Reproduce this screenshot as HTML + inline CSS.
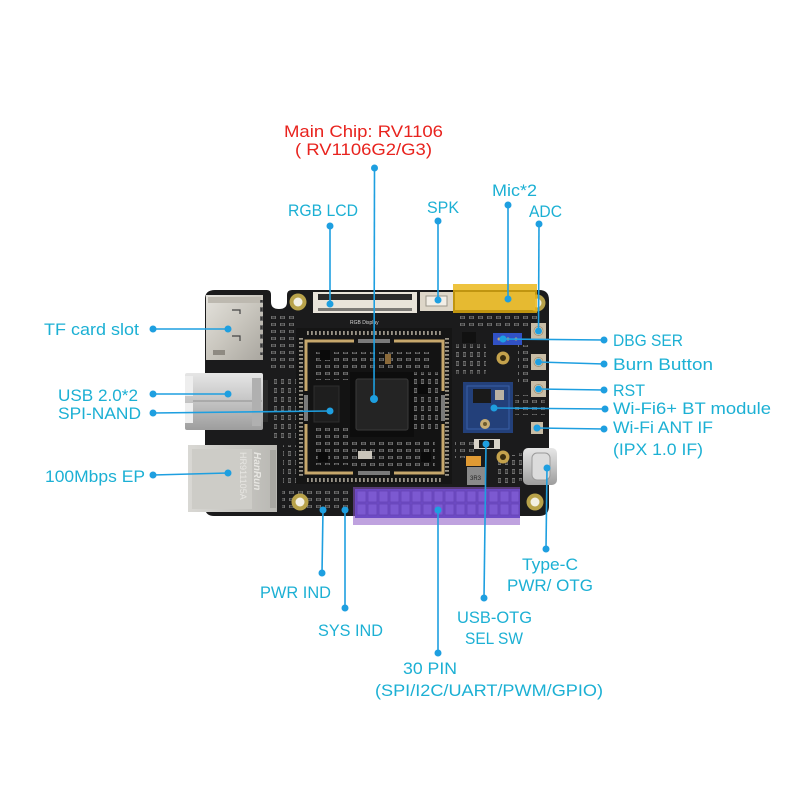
<!DOCTYPE html>
<html>
<head>
<meta charset="utf-8">
<style>
html,body{margin:0;padding:0;background:#fff;}
svg{display:block;}
.lbl{font-family:"Liberation Sans",sans-serif;font-size:17px;fill:#1cb0d4;}
.red{font-family:"Liberation Sans",sans-serif;font-size:17px;fill:#e8231e;}
.ln{stroke:#1e9fe0;stroke-width:1.6;fill:none;}
.dt{fill:#1e9fe0;}
.silk{font-family:"Liberation Sans",sans-serif;font-size:5px;fill:#d8d8d8;}
</style>
</head>
<body>
<svg width="800" height="800" viewBox="0 0 800 800" xmlns="http://www.w3.org/2000/svg">
<defs>
<linearGradient id="metal" x1="0" y1="0" x2="1" y2="1">
<stop offset="0" stop-color="#e4e2dc"/><stop offset="0.5" stop-color="#c9c6be"/><stop offset="1" stop-color="#a9a69f"/>
</linearGradient>
<linearGradient id="usb" x1="0" y1="0" x2="0" y2="1">
<stop offset="0" stop-color="#e6e6e6"/><stop offset="0.5" stop-color="#c4c4c4"/><stop offset="1" stop-color="#9d9d9d"/>
</linearGradient>
<linearGradient id="eth" x1="0" y1="0" x2="1" y2="0">
<stop offset="0" stop-color="#d9d8d4"/><stop offset="1" stop-color="#b9b8b3"/>
</linearGradient>
<pattern id="smd" x="0" y="0" width="9" height="7" patternUnits="userSpaceOnUse">
<rect x="1" y="1" width="5" height="3" fill="#6d6d6d"/>
<rect x="2" y="1.5" width="3" height="2" fill="#3a3a3a"/>
</pattern>
<pattern id="smd2" x="0" y="0" width="7" height="9" patternUnits="userSpaceOnUse">
<rect x="1" y="1" width="3" height="5" fill="#707070"/>
<rect x="1.5" y="2" width="2" height="3" fill="#383838"/>
</pattern>
</defs>

<!-- board -->
<path d="M215 290 H267 Q271 290 271 295 V302 Q271 309 279 309 Q287 309 287 302 V295 Q287 290 292 290 H539 Q549 290 549 300 V506 Q549 516 539 516 H214 Q205 516 205 507 V299 Q205 290 215 290 Z" fill="#1b1b1c"/>

<!-- scattered smd areas -->
<rect x="268" y="312" width="30" height="60" fill="url(#smd)"/>
<rect x="270" y="378" width="28" height="60" fill="url(#smd2)"/>
<rect x="283" y="445" width="14" height="40" fill="url(#smd2)"/>
<rect x="458" y="315" width="80" height="14" fill="url(#smd)"/>
<rect x="456" y="344" width="30" height="30" fill="url(#smd2)"/>
<rect x="518" y="345" width="14" height="40" fill="url(#smd)"/>
<rect x="455" y="438" width="20" height="20" fill="url(#smd)"/>
<rect x="495" y="455" width="22" height="30" fill="url(#smd2)"/>
<rect x="282" y="488" width="70" height="24" fill="url(#smd)"/>
<rect x="515" y="395" width="30" height="20" fill="url(#smd)"/>

<!-- TF card slot -->
<rect x="206" y="295" width="57" height="65" fill="url(#metal)"/>
<rect x="208" y="297" width="53" height="6" fill="#bdb9b0"/>
<path d="M232 310 h8 v4 M232 336 h8 v5" stroke="#444" stroke-width="1.2" fill="none"/>
<rect x="213" y="350" width="12" height="5" fill="#8e8a82"/>
<rect x="260" y="300" width="5" height="55" fill="url(#smd2)"/>

<!-- USB -->
<rect x="185" y="373" width="78" height="57" rx="2" fill="url(#usb)"/>
<rect x="185" y="376" width="8" height="20" fill="#eeeeee"/>
<rect x="185" y="403" width="8" height="20" fill="#eeeeee"/>
<line x1="193" y1="401" x2="262" y2="401" stroke="#8f8f8f" stroke-width="1"/>
<rect x="252" y="378" width="9" height="48" fill="#b0b0b0"/>
<rect x="263" y="380" width="5" height="42" fill="#2a2a2a"/>

<!-- Ethernet -->
<rect x="188" y="445" width="89" height="67" fill="url(#eth)"/>
<rect x="192" y="449" width="60" height="60" fill="#cdccc7"/>
<rect x="270" y="450" width="6" height="58" fill="#a8a7a2"/>
<text transform="translate(254,452) rotate(90)" font-family="Liberation Sans" font-size="10" font-style="italic" font-weight="bold" fill="#e7e6e2">HanRun</text>
<text transform="translate(240,452) rotate(90)" font-family="Liberation Sans" font-size="9" fill="#e7e6e2">HR911105A</text>

<!-- mounting holes -->
<g>
<circle cx="298" cy="302" r="8.5" fill="#b8a24a"/><circle cx="298" cy="302" r="4.5" fill="#f2efe4"/>
<circle cx="300" cy="502" r="8.5" fill="#b8a24a"/><circle cx="300" cy="502" r="4.5" fill="#f2efe4"/>
<circle cx="535" cy="502" r="8.5" fill="#b8a24a"/><circle cx="535" cy="502" r="4.5" fill="#f2efe4"/>
<circle cx="537" cy="303" r="8.5" fill="#b8a24a"/><circle cx="537" cy="303" r="4.5" fill="#f2efe4"/>
</g>

<!-- RGB LCD connector -->
<rect x="313" y="292" width="104" height="21" fill="#e9e4da"/>
<rect x="318" y="294" width="94" height="6" fill="#2a2a2a"/>
<rect x="318" y="308" width="94" height="3" fill="#7c7a76"/>
<text x="350" y="324" class="silk">RGB Display</text>

<!-- SPK connector -->
<rect x="420" y="292" width="33" height="19" fill="#ddd6c8"/>
<rect x="426" y="296" width="21" height="10" fill="#f2eee6" stroke="#9b958a" stroke-width="1"/>

<!-- core module -->
<rect x="296" y="328" width="156" height="156" fill="#151515"/>
<line x1="301" y1="338" x2="301" y2="476" stroke="#9a9488" stroke-width="4" stroke-dasharray="1.8 2.2"/>
<line x1="447" y1="338" x2="447" y2="476" stroke="#9a9488" stroke-width="4" stroke-dasharray="1.8 2.2"/>
<line x1="307" y1="333" x2="443" y2="333" stroke="#9a9488" stroke-width="4" stroke-dasharray="1.8 2.2"/>
<line x1="307" y1="480" x2="443" y2="480" stroke="#9a9488" stroke-width="4" stroke-dasharray="1.8 2.2"/>
<rect x="310" y="345" width="130" height="125" fill="#131313"/>
<g stroke="#c7a86c" stroke-width="3" fill="none">
<path d="M354 341 H306 V391"/>
<path d="M394 341 H443 V391"/>
<path d="M306 424 V473 H353"/>
<path d="M443 424 V473 H394"/>
</g>
<rect x="358" y="339" width="32" height="4" fill="#7a7a7a"/>
<rect x="358" y="471" width="32" height="4" fill="#7a7a7a"/>
<rect x="304" y="395" width="4" height="26" fill="#7a7a7a"/>
<rect x="441" y="395" width="4" height="26" fill="#7a7a7a"/>
<!-- inner components -->
<rect x="315" y="352" width="35" height="28" fill="url(#smd)"/>
<rect x="350" y="352" width="80" height="18" fill="url(#smd)"/>
<rect x="412" y="372" width="26" height="60" fill="url(#smd2)"/>
<rect x="315" y="425" width="35" height="40" fill="url(#smd)"/>
<rect x="350" y="440" width="85" height="28" fill="url(#smd)"/>
<rect x="350" y="372" width="64" height="65" fill="#0d0d0d"/>
<rect x="356" y="379" width="52" height="51" rx="2" fill="#242424" stroke="#3a3a3a" stroke-width="1"/>
<rect x="314" y="386" width="25" height="36" fill="#1e1e1e" stroke="#2e2e2e" stroke-width="1"/>
<rect x="320" y="350" width="10" height="10" fill="#0a0a0a"/>
<rect x="385" y="354" width="6" height="10" fill="#8b6a3a"/>
<rect x="358" y="451" width="14" height="8" fill="#c9c4ba"/>
<rect x="418" y="384" width="10" height="10" fill="#0a0a0a"/>
<rect x="318" y="452" width="10" height="10" fill="#0a0a0a"/>
<rect x="421" y="452" width="10" height="10" fill="#0a0a0a"/>

<!-- right area -->
<rect x="462" y="332" width="14" height="11" fill="#111"/>
<rect x="493" y="333" width="29" height="12" fill="#3151c4"/>
<circle cx="499" cy="339" r="1.5" fill="#c7a86c"/><circle cx="508" cy="339" r="1.5" fill="#c7a86c"/><circle cx="516" cy="339" r="1.5" fill="#c7a86c"/>
<circle cx="503" cy="358" r="6.5" fill="#c4a24c"/><circle cx="503" cy="358" r="3" fill="#3a2e10"/>
<circle cx="503" cy="457" r="6.5" fill="#c4a24c"/><circle cx="503" cy="457" r="3" fill="#3a2e10"/>
<!-- buttons -->
<g>
<rect x="531" y="323" width="15" height="16" fill="#c8bda6"/><circle cx="538.5" cy="331" r="4.5" fill="#e8ddc3" stroke="#a39377"/>
<rect x="531" y="354" width="15" height="16" fill="#c8bda6"/><circle cx="538.5" cy="362" r="4.5" fill="#e8ddc3" stroke="#a39377"/>
<rect x="531" y="381" width="15" height="16" fill="#c8bda6"/><circle cx="538.5" cy="389" r="4.5" fill="#e8ddc3" stroke="#a39377"/>
<rect x="531" y="422" width="12" height="12" fill="#c8bda6"/><circle cx="537" cy="428" r="3" fill="#e8ddc3" stroke="#a39377"/>
</g>
<!-- wifi module -->
<rect x="463" y="382" width="50" height="51" fill="#23407a"/>
<rect x="467" y="386" width="42" height="43" fill="none" stroke="#3a5fa8" stroke-width="1"/>
<rect x="473" y="389" width="18" height="14" fill="#1a1a1a"/>
<rect x="495" y="390" width="9" height="10" fill="#b9b2a3"/>
<circle cx="485" cy="424" r="5" fill="#c8ad73"/><circle cx="485" cy="424" r="2" fill="#6d5a2d"/>
<!-- switch -->
<rect x="474" y="439" width="26" height="10" fill="#d8d3c8"/>
<rect x="479" y="440" width="15" height="8" fill="#1a1a1a"/>
<!-- orange cap and inductor -->
<rect x="466" y="456" width="15" height="10" fill="#e09a34"/>
<rect x="467" y="467" width="18" height="18" fill="#8a8a8a"/>
<text x="470" y="480" font-family="Liberation Sans" font-size="6" fill="#222">3R3</text>
<!-- Type-C -->
<rect x="516" y="453" width="8" height="28" fill="url(#smd2)"/>
<rect x="523" y="448" width="34" height="37" rx="5" fill="url(#usb)"/>
<rect x="532" y="453" width="18" height="27" rx="5" fill="#dcdcdc" stroke="#9a9a9a"/>

<!-- yellow highlight -->
<rect x="455" y="292" width="40" height="18" fill="#d8cfbd"/>
<rect x="495" y="292" width="40" height="18" fill="#d8cfbd"/>
<rect x="453" y="284" width="84" height="29" fill="#eab40e" opacity="0.8"/>

<!-- 30 pin header -->
<rect x="355" y="489" width="165" height="29" fill="#4b3dc4"/>
<g fill="#6b5de0" stroke="#3a2ea0" stroke-width="0.8">
<rect x="357" y="491" width="9" height="11"/><rect x="368" y="491" width="9" height="11"/><rect x="379" y="491" width="9" height="11"/><rect x="390" y="491" width="9" height="11"/><rect x="401" y="491" width="9" height="11"/><rect x="412" y="491" width="9" height="11"/><rect x="423" y="491" width="9" height="11"/><rect x="434" y="491" width="9" height="11"/><rect x="445" y="491" width="9" height="11"/><rect x="456" y="491" width="9" height="11"/><rect x="467" y="491" width="9" height="11"/><rect x="478" y="491" width="9" height="11"/><rect x="489" y="491" width="9" height="11"/><rect x="500" y="491" width="9" height="11"/><rect x="511" y="491" width="8" height="11"/>
<rect x="357" y="504" width="9" height="11"/><rect x="368" y="504" width="9" height="11"/><rect x="379" y="504" width="9" height="11"/><rect x="390" y="504" width="9" height="11"/><rect x="401" y="504" width="9" height="11"/><rect x="412" y="504" width="9" height="11"/><rect x="423" y="504" width="9" height="11"/><rect x="434" y="504" width="9" height="11"/><rect x="445" y="504" width="9" height="11"/><rect x="456" y="504" width="9" height="11"/><rect x="467" y="504" width="9" height="11"/><rect x="478" y="504" width="9" height="11"/><rect x="489" y="504" width="9" height="11"/><rect x="500" y="504" width="9" height="11"/><rect x="511" y="504" width="8" height="11"/>
</g>
<rect x="353" y="487" width="167" height="38" fill="#8a55c4" opacity="0.55"/>

<!-- connector lines -->
<g class="ln">
<line x1="374.5" y1="168" x2="374" y2="399"/>
<line x1="330" y1="226" x2="330" y2="304"/>
<line x1="438" y1="221" x2="438" y2="300"/>
<line x1="508" y1="205" x2="508" y2="299"/>
<line x1="539" y1="224" x2="538.5" y2="331"/>
<line x1="153" y1="329" x2="228" y2="329"/>
<line x1="153" y1="394" x2="228" y2="394"/>
<line x1="153" y1="413" x2="330" y2="411"/>
<line x1="153" y1="475" x2="228" y2="473"/>
<line x1="503" y1="339" x2="604" y2="340"/>
<line x1="538.5" y1="362" x2="604" y2="364"/>
<line x1="538.5" y1="389" x2="604" y2="390"/>
<line x1="494" y1="408" x2="605" y2="409"/>
<line x1="537" y1="428" x2="604" y2="429"/>
<line x1="323" y1="510" x2="322" y2="573"/>
<line x1="345" y1="510" x2="345" y2="608"/>
<line x1="438" y1="510" x2="438" y2="653"/>
<line x1="486" y1="444" x2="484" y2="598"/>
<line x1="547" y1="468" x2="546" y2="549"/>
</g>
<g class="dt">
<circle cx="374.5" cy="168" r="3.5"/><circle cx="374" cy="399" r="4"/>
<circle cx="330" cy="226" r="3.5"/><circle cx="330" cy="304" r="3.5"/>
<circle cx="438" cy="221" r="3.5"/><circle cx="438" cy="300" r="3.5"/>
<circle cx="508" cy="205" r="3.5"/><circle cx="508" cy="299" r="3.5"/>
<circle cx="539" cy="224" r="3.5"/><circle cx="538.5" cy="331" r="3.5"/>
<circle cx="153" cy="329" r="3.5"/><circle cx="228" cy="329" r="3.5"/>
<circle cx="153" cy="394" r="3.5"/><circle cx="228" cy="394" r="3.5"/>
<circle cx="153" cy="413" r="3.5"/><circle cx="330" cy="411" r="3.5"/>
<circle cx="153" cy="475" r="3.5"/><circle cx="228" cy="473" r="3.5"/>
<circle cx="503" cy="339" r="3.5"/><circle cx="604" cy="340" r="3.5"/>
<circle cx="538.5" cy="362" r="3.5"/><circle cx="604" cy="364" r="3.5"/>
<circle cx="538.5" cy="389" r="3.5"/><circle cx="604" cy="390" r="3.5"/>
<circle cx="494" cy="408" r="3.5"/><circle cx="605" cy="409" r="3.5"/>
<circle cx="537" cy="428" r="3.5"/><circle cx="604" cy="429" r="3.5"/>
<circle cx="323" cy="510" r="3.5"/><circle cx="322" cy="573" r="3.5"/>
<circle cx="345" cy="510" r="3.5"/><circle cx="345" cy="608" r="3.5"/>
<circle cx="438" cy="510" r="3.5"/><circle cx="438" cy="653" r="3.5"/>
<circle cx="486" cy="444" r="3.5"/><circle cx="484" cy="598" r="3.5"/>
<circle cx="547" cy="468" r="3.5"/><circle cx="546" cy="549" r="3.5"/>
</g>

<!-- labels -->
<text class="red" x="284" y="137" textLength="159" lengthAdjust="spacingAndGlyphs">Main Chip: RV1106</text>
<text class="red" x="295" y="155" textLength="137" lengthAdjust="spacingAndGlyphs">( RV1106G2/G3)</text>
<text class="lbl" x="288" y="216" textLength="70" lengthAdjust="spacingAndGlyphs">RGB LCD</text>
<text class="lbl" x="427" y="213" textLength="32" lengthAdjust="spacingAndGlyphs">SPK</text>
<text class="lbl" x="492" y="196" textLength="45" lengthAdjust="spacingAndGlyphs">Mic*2</text>
<text class="lbl" x="529" y="217" textLength="33" lengthAdjust="spacingAndGlyphs">ADC</text>
<text class="lbl" x="44" y="335" textLength="95" lengthAdjust="spacingAndGlyphs">TF card slot</text>
<text class="lbl" x="58" y="401" textLength="80" lengthAdjust="spacingAndGlyphs">USB 2.0*2</text>
<text class="lbl" x="58" y="419" textLength="83" lengthAdjust="spacingAndGlyphs">SPI-NAND</text>
<text class="lbl" x="45" y="482" textLength="100" lengthAdjust="spacingAndGlyphs">100Mbps EP</text>
<text class="lbl" x="613" y="346" textLength="70" lengthAdjust="spacingAndGlyphs">DBG SER</text>
<text class="lbl" x="613" y="370" textLength="100" lengthAdjust="spacingAndGlyphs">Burn Button</text>
<text class="lbl" x="613" y="396" textLength="32" lengthAdjust="spacingAndGlyphs">RST</text>
<text class="lbl" x="613" y="414" textLength="158" lengthAdjust="spacingAndGlyphs">Wi-Fi6+ BT module</text>
<text class="lbl" x="613" y="433" textLength="100" lengthAdjust="spacingAndGlyphs">Wi-Fi ANT IF</text>
<text class="lbl" x="613" y="455" textLength="90" lengthAdjust="spacingAndGlyphs">(IPX 1.0 IF)</text>
<text class="lbl" x="260" y="598" textLength="71" lengthAdjust="spacingAndGlyphs">PWR IND</text>
<text class="lbl" x="318" y="636" textLength="65" lengthAdjust="spacingAndGlyphs">SYS IND</text>
<text class="lbl" x="403" y="674" textLength="54" lengthAdjust="spacingAndGlyphs">30 PIN</text>
<text class="lbl" x="375" y="696" textLength="228" lengthAdjust="spacingAndGlyphs">(SPI/I2C/UART/PWM/GPIO)</text>
<text class="lbl" x="457" y="623" textLength="75" lengthAdjust="spacingAndGlyphs">USB-OTG</text>
<text class="lbl" x="465" y="644" textLength="58" lengthAdjust="spacingAndGlyphs">SEL SW</text>
<text class="lbl" x="522" y="570" textLength="56" lengthAdjust="spacingAndGlyphs">Type-C</text>
<text class="lbl" x="507" y="591" textLength="86" lengthAdjust="spacingAndGlyphs">PWR/ OTG</text>
</svg>
</body>
</html>
